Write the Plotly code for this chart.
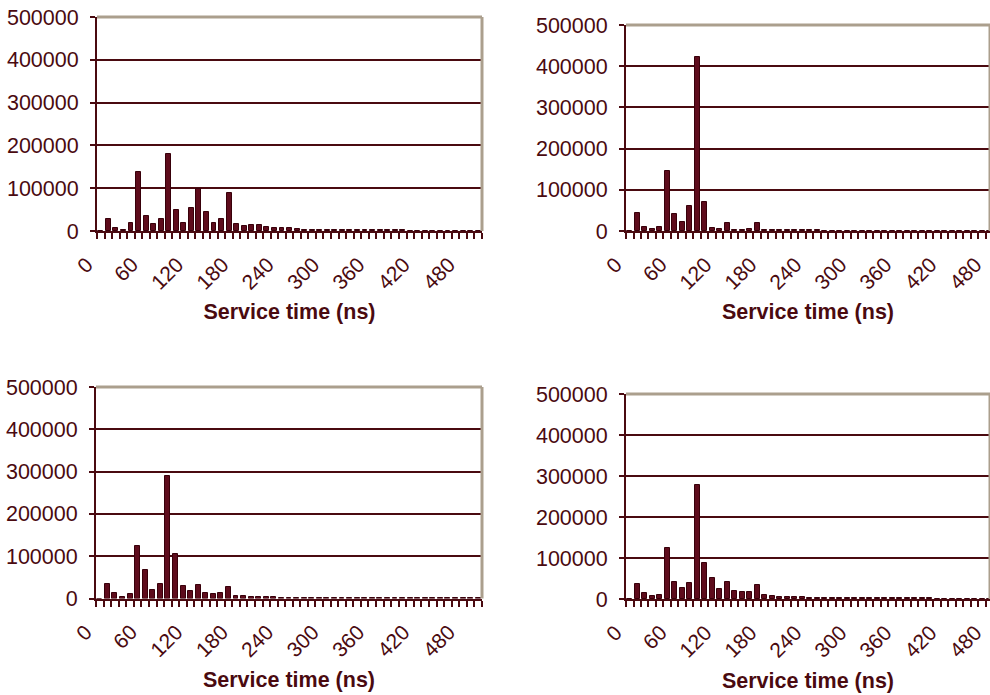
import plotly.graph_objects as go
from plotly.subplots import make_subplots

# Service time bins (ns)
bins = list(range(0, 510, 10))

panel1 = [0, 29000, 6000, 2000, 18000, 137000, 34000, 17000, 29000, 181000,
          49000, 19000, 54000, 99000, 45000, 19000, 29000, 89000, 16000, 12000,
          14000, 14000, 9000, 8000, 7000, 6000, 4500, 3500, 3000, 2500,
          2000, 2000, 2000, 2000, 2000,
          1500, 1500, 1500, 1500, 1500, 1500,
          1000, 1000, 1000, 1000, 1000, 1000, 1000, 1000, 1000, 1000]
panel2 = [0, 44000, 9000, 6000, 9000, 146000, 42000, 23000, 61000, 423000,
          70000, 7000, 6000, 20000, 3000, 3000, 6000, 20000, 3000, 2000,
          1500, 1500, 1500, 1500, 1500, 1500] + [1000] * 25
panel3 = [0, 34000, 12000, 4000, 9500, 124000, 67000, 20000, 35000, 290000,
          106000, 29000, 17000, 31000, 13500, 10000, 13000, 28000, 7000, 5000,
          4000, 3000, 2500, 2500, 2000, 2000] + [1500] * 5 + [1000] * 20
panel4 = [0, 37000, 14000, 7000, 10500, 124000, 41000, 28000, 38000, 278000,
          89000, 52000, 24000, 41000, 19000, 17500, 16500, 34000, 10000, 7000,
          5500, 5000, 4500, 4000, 3000, 3000, 2500, 2500] + [2000] * 5 + [1500] * 8 + [1000] * 10

y_ticks = [0, 100000, 200000, 300000, 400000, 500000]
x_title = "Service time (ns)"

MAROON = "#4a0a10"
BAR = "#5e0c1c"
BAR_LINE = "#38000a"
TAN = "#ab9f8d"
FONT = "Arial, Liberation Sans, sans-serif"

W, H = 990, 695

fig = make_subplots(rows=2, cols=2)

panels = [panel1, panel2, panel3, panel4]
for i, vals in enumerate(panels):
    r, c = i // 2 + 1, i % 2 + 1
    fig.add_trace(go.Bar(x=bins, y=vals, width=6.5,
                         marker=dict(color=BAR, line=dict(color=BAR_LINE, width=1)),
                         showlegend=False), row=r, col=c)

# domains in pixels: (x0, x1, ytop, ybottom)
dom = [(97, 482, 17, 231), (626, 990, 25, 231), (96, 482, 387, 598.5), (626, 990, 394, 599)]
xranges = [[-5, 505], [-5, 480.5], [-5, 505], [-5, 480.5]]
title_standoff = [11, 11, 12, 12]

for i in range(4):
    x0, x1, yt, yb = dom[i]
    xa = "xaxis" if i == 0 else f"xaxis{i+1}"
    ya = "yaxis" if i == 0 else f"yaxis{i+1}"
    fig.layout[xa].update(
        domain=[x0 / W, min(x1 / W, 1.0)], range=xranges[i], automargin=False,
        tickmode="linear", tick0=0, dtick=60, ticks="",
        tickangle=-45, ticklabelshift=-14, ticklabelstandoff=11,
        ticklabeloverflow="allow",
        tickfont=dict(family=FONT, size=21, color=MAROON),
        showline=True, linecolor=MAROON, linewidth=2, showgrid=False, zeroline=False,
        minor=dict(tickmode="linear", tick0=-5, dtick=10, ticks="outside",
                   ticklen=6, tickwidth=2, tickcolor=MAROON, showgrid=False),
        title=dict(text=f"<b>{x_title}</b>", standoff=title_standoff[i],
                   font=dict(family=FONT, size=21.5, color=MAROON)),
        fixedrange=True,
    )
    fig.layout[ya].update(
        domain=[1 - yb / H, 1 - yt / H], range=[0, 500000], automargin=False,
        tickmode="array", tickvals=y_ticks, tickformat="d",
        ticks="outside", ticklen=5, tickwidth=2, tickcolor=MAROON,
        ticklabelstandoff=7,
        tickfont=dict(family=FONT, size=21.5, color=MAROON),
        showline=True, linecolor=MAROON, linewidth=2,
        showgrid=True, gridcolor=MAROON, gridwidth=2, zeroline=False,
        fixedrange=True,
    )
    xr = "x" if i == 0 else f"x{i+1}"
    yr = "y" if i == 0 else f"y{i+1}"
    # tan plot-area border on top and right
    fig.add_shape(type="line", xref=f"{xr} domain", yref=f"{yr} domain",
                  x0=0, x1=1, y0=1, y1=1, line=dict(color=TAN, width=3), layer="above")
    fig.add_shape(type="line", xref=f"{xr} domain", yref=f"{yr} domain",
                  x0=1, x1=1, y0=0, y1=1, line=dict(color=TAN, width=3), layer="above")

fig.update_layout(width=W, height=H, margin=dict(l=0, r=0, t=0, b=0),
                  paper_bgcolor="white", plot_bgcolor="white", bargap=0,
                  font=dict(family=FONT, color=MAROON))

fig.write_html("out.html", config={"displayModeBar": False},
               post_script="document.body.style.margin='0';")
